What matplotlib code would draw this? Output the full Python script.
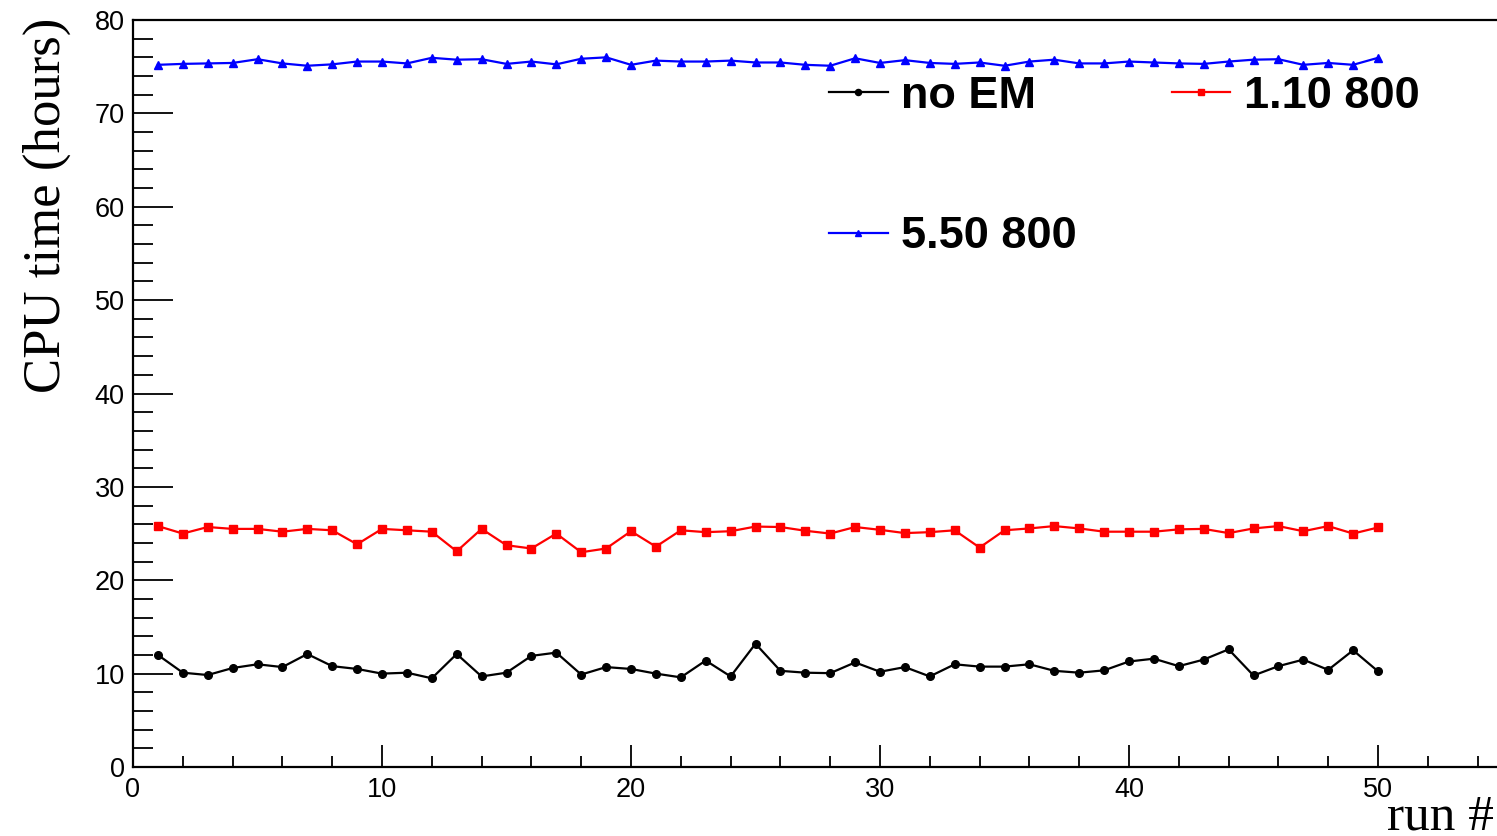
import numpy as np
import matplotlib
matplotlib.use('Agg')
import matplotlib.pyplot as plt
from matplotlib.ticker import MultipleLocator

runs = np.arange(1, 51)

# CPU time per run (hours)
no_em = [12.0, 10.1, 9.85, 10.6, 11.0, 10.7, 12.1, 10.8, 10.5, 10.0,
         10.1, 9.5, 12.1, 9.7, 10.1, 11.9, 12.25, 9.9, 10.7, 10.5,
         10.0, 9.6, 11.4, 9.7, 13.2, 10.3, 10.1, 10.05, 11.2, 10.2,
         10.7, 9.7, 11.0, 10.75, 10.75, 11.0, 10.3, 10.1, 10.35, 11.3,
         11.6, 10.8, 11.5, 12.6, 9.8, 10.8, 11.5, 10.4, 12.5, 10.25]
em_110_800 = [25.8, 25.0, 25.7, 25.5, 25.5, 25.2, 25.5, 25.35, 23.85, 25.5,
              25.35, 25.2, 23.1, 25.5, 23.75, 23.4, 25.0, 23.0, 23.4, 25.25,
              23.6, 25.35, 25.15, 25.25, 25.75, 25.7, 25.3, 25.0, 25.7, 25.4,
              25.05, 25.15, 25.35, 23.5, 25.35, 25.55, 25.8, 25.55, 25.2, 25.2,
              25.2, 25.45, 25.5, 25.05, 25.55, 25.8, 25.25, 25.8, 25.0, 25.65]
em_550_800 = [75.2, 75.3, 75.35, 75.4, 75.8, 75.35, 75.1, 75.25, 75.55, 75.55,
              75.35, 75.95, 75.75, 75.8, 75.3, 75.55, 75.25, 75.85, 76.0, 75.2,
              75.65, 75.55, 75.55, 75.65, 75.45, 75.45, 75.2, 75.1, 75.9, 75.4,
              75.7, 75.4, 75.3, 75.45, 75.1, 75.55, 75.75, 75.35, 75.35, 75.55,
              75.45, 75.35, 75.3, 75.55, 75.75, 75.8, 75.2, 75.4, 75.2, 75.95]

fig = plt.figure(figsize=(14.97, 8.36), dpi=100)
ax = fig.add_axes([133/1497, 1 - 767/836, 1369.5/1497, 747/836])

l1, = ax.plot(runs, no_em, '-o', color='black', lw=1.6, ms=5.5, label='no EM')
l2, = ax.plot(runs, em_110_800, '-s', color='red', lw=1.6, ms=5.5, label='1.10 800')
l3, = ax.plot(runs, em_550_800, '-^', color='blue', lw=1.6, ms=5.5, label='5.50 800')

ax.set_xlim(0, 55)
ax.set_ylim(0, 80)
ax.xaxis.set_major_locator(MultipleLocator(10))
ax.xaxis.set_minor_locator(MultipleLocator(2))
ax.yaxis.set_major_locator(MultipleLocator(10))
ax.yaxis.set_minor_locator(MultipleLocator(2))
ax.tick_params(axis='both', which='both', direction='in', width=1.3,
               labelsize=19.5, top=False, right=False)
ax.tick_params(axis='x', which='major', length=16, pad=7)
ax.tick_params(axis='x', which='minor', length=8)
ax.tick_params(axis='y', which='major', length=29, pad=6)
ax.tick_params(axis='y', which='minor', length=14.5)
for lab in ax.get_xticklabels() + ax.get_yticklabels():
    lab.set_family('Liberation Sans')
for s in ax.spines.values():
    s.set_linewidth(1.6)

fig.text(47/1497, 1 - 18/836, 'CPU time (hours)', rotation=90, ha='center',
         va='top', family='Liberation Serif', fontsize=38)
fig.text(0.998, 1 - 830/836, 'run #', ha='right', va='baseline',
         family='Liberation Serif', fontsize=37)

leg = ax.legend([l1, l3, l2], ['no EM', '5.50 800', '1.10 800'], ncol=2,
                frameon=False, loc='upper left',
                bbox_to_anchor=(829/1497, 1 - 76/836), bbox_transform=fig.transFigure,
                prop={'family': 'Liberation Sans', 'weight': 'bold', 'size': 32.5},
                handlelength=1.3, handletextpad=0.3, columnspacing=2.1,
                labelspacing=2.2, borderpad=0, borderaxespad=0, numpoints=1,
                markerscale=0.8)

fig.savefig('out.png', dpi=100)
